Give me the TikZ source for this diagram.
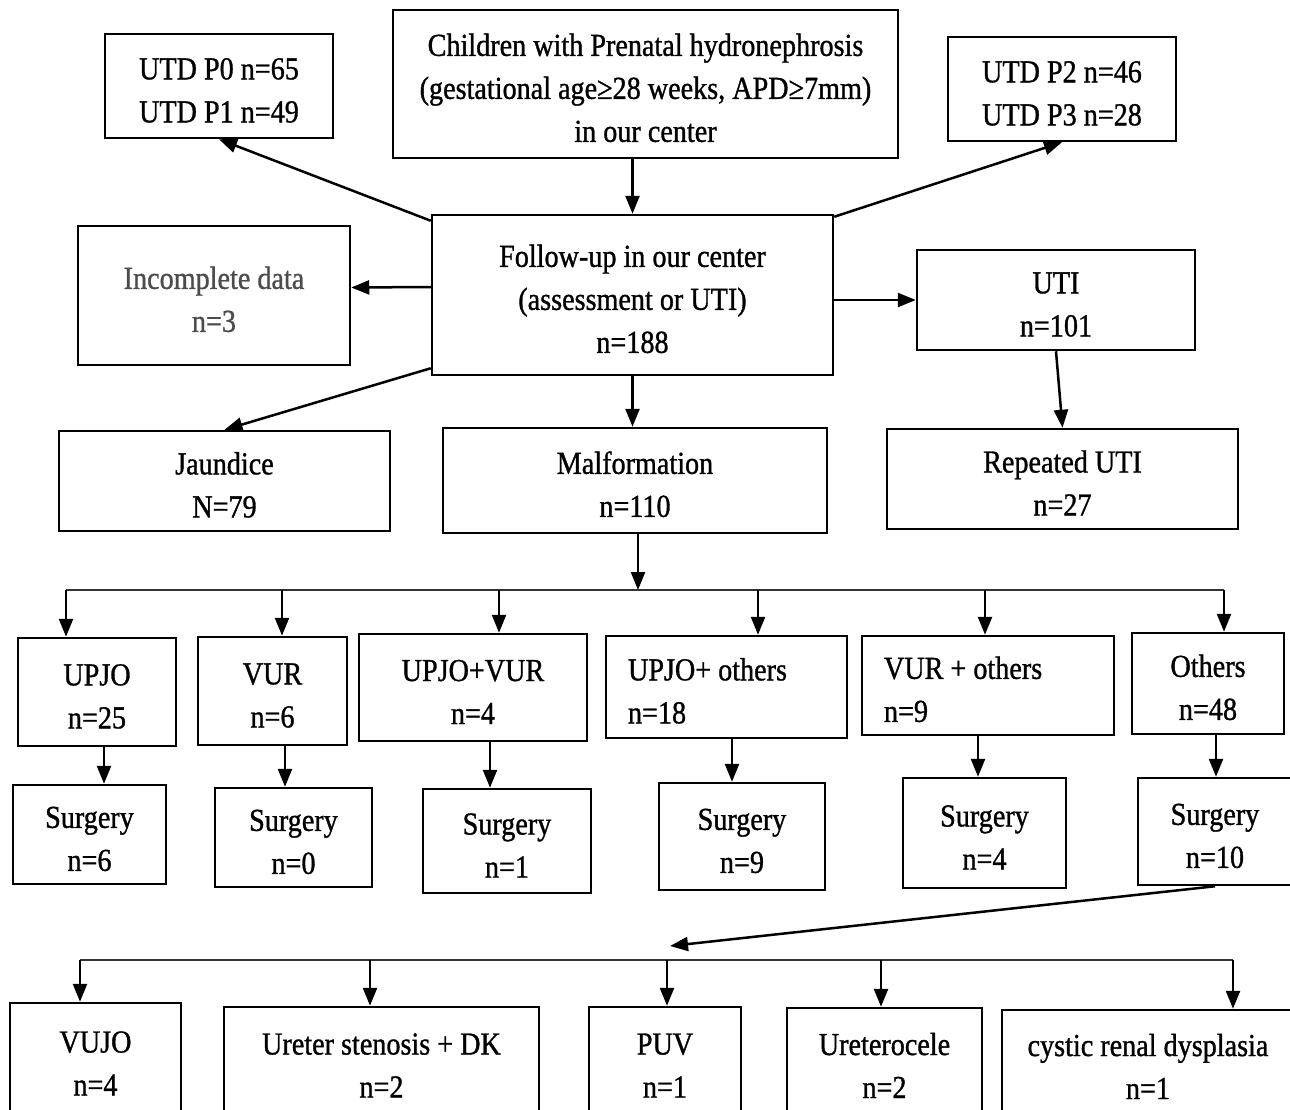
\documentclass[tikz,border=0pt]{standalone}
\usepackage{fontspec}
\setmainfont{Liberation Serif}[FakeStretch=0.88, FakeBold=1]
\usetikzlibrary{arrows.meta}
\newcommand\topgap{\rule{0pt}{30pt}}

\begin{document}
\begin{tikzpicture}[x=1pt, y=-1pt, >={Triangle[length=18pt,width=14pt]}, line width=2.5pt,
    box/.style 2 args={draw, inner sep=0pt, align=center, minimum width=#1pt, minimum height=#2pt,
        font=\fontsize{32}{43}\selectfont},
    lbox/.style 2 args={box={#1}{#2}, align=flush left, inner xsep=22pt, text width=#1pt-44pt},
    bus/.style={line width=1.5pt, black!80}]
    \useasboundingbox (0,0) rectangle (1290,1109);

    % top part
    \node[box={505}{148}] (child) at (645.5,84) {\topgap Children with Prenatal hydronephrosis\\(gestational age≥28 weeks, APD≥7mm)\\in our center};
    \node[box={228}{104}] (utd01) at (219,86) {\topgap UTD P0 n=65\\UTD P1 n=49};
    \node[box={228}{104}] (utd23) at (1062,89) {\topgap UTD P2 n=46\\UTD P3 n=28};
    \node[box={401}{160}] (follow) at (632.5,295) {\topgap Follow-up in our center\\(assessment or UTI)\\n=188};
    \node[box={272}{139}, text=black!70] (incomp) at (214,295.5) {\topgap Incomplete data\\n=3};
    \node[box={278}{100}] (uti) at (1056,300) {\topgap UTI\\n=101};
    \node[box={331}{100}] (jaund) at (224.5,481) {\topgap Jaundice\\N=79};
    \node[box={384}{105}] (malf) at (635,480.5) {\topgap Malformation\\n=110};
    \node[box={351}{100}] (rep) at (1062.5,479) {\topgap Repeated UTI\\n=27};

    % malformation types
    \node[box={158}{108}] (upjo) at (97,692) {\topgap UPJO\\n=25};
    \node[box={149}{108}] (vur) at (272.5,691) {\topgap VUR\\n=6};
    \node[box={228}{107}] (uv) at (473,687.5) {\topgap UPJO+VUR\\n=4};
    \node[lbox={241}{102}] (uo) at (726.5,687) {\topgap UPJO+ others\\n=18};
    \node[lbox={252}{99}] (vo) at (988,685.5) {\topgap VUR + others\\n=9};
    \node[box={152}{101}] (oth) at (1208,683.5) {\topgap Others\\n=48};

    % surgery
    \node[box={153}{99}] (s1) at (89.5,834.5) {\topgap Surgery\\n=6};
    \node[box={157}{99}] (s2) at (293.5,837.5) {\topgap Surgery\\n=0};
    \node[box={168}{104}] (s3) at (507,841) {\topgap Surgery\\n=1};
    \node[box={166}{107}] (s4) at (742,836.5) {\topgap Surgery\\n=9};
    \node[box={163}{110}] (s5) at (984.5,833) {\topgap Surgery\\n=4};
    \node[box={154}{107}] (s6) at (1215,831.5) {\topgap Surgery\\n=10};

    % other malformations
    \node[box={171}{112}] (vujo) at (95.5,1059) {\topgap VUJO\\n=4};
    \node[box={315}{108}] (ust) at (381.5,1061) {\topgap Ureter stenosis + DK\\n=2};
    \node[box={152}{108}] (puv) at (665,1061) {\topgap PUV\\n=1};
    \node[box={195}{107}] (urc) at (884.5,1061.5) {\topgap Ureterocele\\n=2};
    \node[box={292}{105}] (cyst) at (1148,1062.5) {\topgap cystic renal dysplasia\\n=1};

    \coordinate (bus) at (638,590);
    \coordinate (tip) at (670,946);
    \coordinate (bus2) at (80,960);

    \path[->]
    (follow.north |- child.south) edge (follow.north)
    ([yshift=-7pt]follow.north west) edge (utd01.south)
    ([yshift=-3pt]follow.north east) edge (utd23.south)
    ([yshift=8pt]follow.west) edge ([yshift=8pt]incomp.east)
    (follow.east |- uti.west) edge (uti.west)
    ([yshift=8pt]follow.south west) edge (jaund.north)
    (follow.south) edge (follow.south |- malf.north)
    (uti.south) edge (rep.north)
    (bus |- malf.south) edge (bus)
    (s6.south) edge (tip);

    \draw[bus] (66,590) -- (1224,590);
    \foreach \x/\n in {66/upjo, 282/vur, 499/uv, 758/uo, 985/vo, 1224/oth}
        \draw[->] (\x,590) -- (\x,0 |- \n.north);
    \foreach \x/\a/\b in {104/upjo/s1, 285/vur/s2, 490/uv/s3, 732/uo/s4, 978/vo/s5, 1216/oth/s6}
        \draw[->] (\x,0 |- \a.south) -- (\x,0 |- \b.north);

    \draw[bus] (bus2) -- (1233,960);
    \foreach \x/\n in {80/vujo, 370/ust, 667/puv, 881/urc, 1233/cyst}
        \draw[->] (\x,960) -- (\x,0 |- \n.north);
\end{tikzpicture}
\end{document}
